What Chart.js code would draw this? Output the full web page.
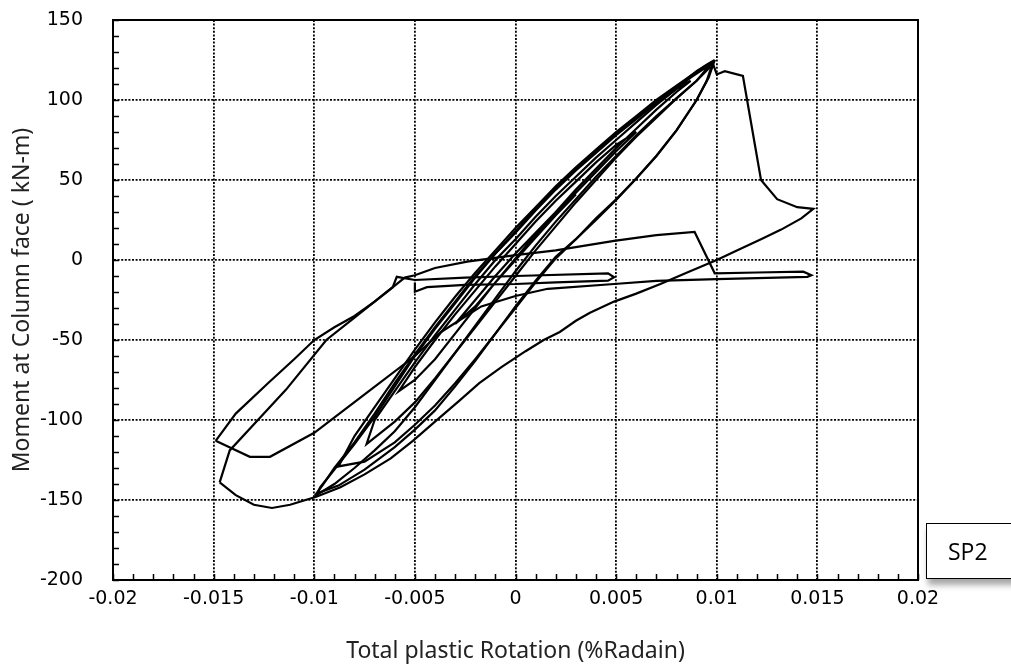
<!DOCTYPE html>
<html>
<head>
<meta charset="utf-8">
<script src="https://cdn.jsdelivr.net/npm/chart.js@4.4.0/dist/chart.umd.min.js"></script>
<style>
  html, body { margin: 0; padding: 0; background: #fff; }
  #wrap { position: relative; width: 1011px; height: 671px; overflow: hidden; }
  #sp2 {
    position: absolute; left: 926px; top: 523px; width: 100px; height: 54px;
    border: 1.5px solid #000; background: #fff;
    box-shadow: 2px 6px 6px rgba(0, 0, 0, 0.35);
    font: 23px "Open Sans", sans-serif; color: #000;
    line-height: 54px; padding-left: 21px; box-sizing: content-box;
  }
</style>
</head>
<body>
<div id="wrap">
  <canvas id="chart" width="1011" height="671"></canvas>
  <div id="sp2">SP2</div>
</div>
<script>
// axis ticks
const xTicks = [-0.02, -0.015, -0.01, -0.005, 0, 0.005, 0.01, 0.015, 0.02];
const xTickLabels = ["-0.02", "-0.015", "-0.01", "-0.005", "0", "0.005", "0.01", "0.015", "0.02"];
const yTicks = [-200, -150, -100, -50, 0, 50, 100, 150];
const yTickLabels = ["-200", "-150", "-100", "-50", "0", "50", "100", "150"];

// [rotation, moment]
// small and medium cycles
const smallCycles = [
  [0, 0], [0.001, 14], [0.002, 28], [0.003, 41], [0.002, 30], [0.001, 17], [0, 4], [-0.001, -10],
  [-0.002, -25], [-0.003, -40], [-0.002, -29], [-0.001, -14], [0, 0], [0.001, 14], [0.002, 28],
  [0.003, 42], [0.004, 55], [0.005, 68], [0.006, 80], [0.005, 72], [0.004, 61], [0.003, 49],
  [0.002, 37], [0.001, 24], [0, 10], [-0.001, -4], [-0.002, -19], [-0.003, -34], [-0.004, -50],
  [-0.005, -67], [-0.0058, -82], [-0.005, -75], [-0.004, -62], [-0.003, -46], [-0.002, -30],
  [-0.001, -14], [0, 1], [0.001, 16], [0.002, 30], [0.003, 44], [0.004, 57], [0.005, 70],
  [0.006, 82], [0.007, 94], [0.008, 105], [0.0087, 112], [0.008, 107], [0.007, 97], [0.006, 86],
  [0.005, 75], [0.004, 64], [0.003, 52], [0.002, 40], [0.001, 27], [0, 13], [-0.001, 0],
  [-0.002, -15], [-0.003, -31], [-0.004, -47], [-0.005, -64], [-0.006, -82], [-0.007, -100],
  [-0.0074, -115], [-0.007, -111], [-0.006, -101], [-0.005, -89], [-0.004, -74], [-0.003, -58],
  [-0.002, -42], [-0.001, -26], [0, -10], [0.001, 6], [0.002, 21], [0.003, 36], [0.004, 50],
  [0.005, 64], [0.006, 77], [0.007, 89], [0.008, 101], [0.009, 112], [0.0097, 121]
];
// cycles to +/-0.01
const cycle10a = [
  [0.0097, 121], [0.0098, 123], [0.0093, 119], [0.0087, 114], [0.008, 107], [0.007, 98], [0.006, 88],
  [0.005, 78], [0.004, 67], [0.003, 56], [0.002, 44], [0.001, 31], [0, 17], [-0.001, 4],
  [-0.002, -11], [-0.003, -27], [-0.004, -43], [-0.005, -60], [-0.006, -79], [-0.007, -98],
  [-0.008, -115], [-0.009, -131], [-0.0097, -142], [-0.0099, -147], [-0.009, -140], [-0.008, -130],
  [-0.007, -119], [-0.006, -107], [-0.005, -92], [-0.004, -75], [-0.003, -58], [-0.002, -41],
  [-0.001, -24], [0, -7], [0.001, 9], [0.002, 24], [0.003, 38], [0.004, 52], [0.005, 65],
  [0.006, 78], [0.007, 90], [0.008, 101], [0.009, 112], [0.0098, 124]
];
const cycle10b = [
  [0.0098, 124], [0.0094, 121], [0.0088, 116], [0.008, 109], [0.007, 100], [0.006, 90], [0.005, 80],
  [0.004, 69], [0.003, 58], [0.002, 46], [0.001, 33], [0, 20], [-0.001, 6], [-0.002, -8],
  [-0.003, -23], [-0.004, -39], [-0.005, -56], [-0.006, -74], [-0.007, -92], [-0.008, -110],
  [-0.0088, -129], [-0.0075, -126], [-0.006, -114], [-0.005, -103], [-0.004, -91], [-0.003, -77],
  [-0.002, -62], [-0.001, -46], [0, -30], [0.001, -14], [0.002, 1], [0.003, 13], [0.004, 26],
  [0.005, 38], [0.006, 51], [0.007, 65], [0.008, 81], [0.009, 100], [0.0096, 114], [0.0099, 125]
];
const cycle10c = [
  [0.0099, 125], [0.0095, 122], [0.009, 118], [0.008, 108], [0.007, 99], [0.006, 89], [0.005, 79],
  [0.004, 68], [0.003, 57], [0.002, 45], [0.001, 32], [0, 18], [-0.001, 4], [-0.002, -10],
  [-0.003, -26], [-0.004, -42], [-0.005, -59], [-0.006, -77], [-0.007, -96], [-0.008, -114],
  [-0.009, -130], [-0.0096, -141], [-0.0099, -146], [-0.0088, -141], [-0.0075, -131],
  [-0.006, -117], [-0.005, -106], [-0.004, -94], [-0.003, -79], [-0.002, -63], [-0.001, -46],
  [0, -29], [0.001, -13], [0.002, 2], [0.003, 13], [0.004, 25], [0.005, 37.5], [0.006, 51],
  [0.007, 65], [0.008, 81], [0.009, 100], [0.0095, 112], [0.0098, 123]
];
// cycle to 0.015: peak, strength drop, unloading to -0.015
const cycle15 = [
  [0.0098, 123], [0.01, 116], [0.0104, 118], [0.0113, 115], [0.0122, 50], [0.013, 38], [0.014, 33],
  [0.0148, 32], [0.0142, 26], [0.0132, 19], [0.0122, 13], [0.011, 6], [0.01, 0], [0.0085, -8],
  [0.0072, -15], [0.006, -21], [0.0049, -26], [0.0037, -33], [0.003, -38], [0.0022, -45],
  [0.0014, -50], [0.0005, -57], [-0.0007, -67], [-0.0018, -77], [-0.0028, -88], [-0.004, -101],
  [-0.0051, -113], [-0.0062, -124], [-0.0075, -134], [-0.0087, -142], [-0.0099, -148],
  [-0.0112, -153], [-0.0121, -155], [-0.013, -153], [-0.0139, -147], [-0.0147, -139]
];
const reloadB = [
  [-0.0147, -139], [-0.0142, -119], [-0.0128, -100], [-0.0114, -81], [-0.0094, -50], [-0.008, -36],
  [-0.0068, -24], [-0.006, -16], [-0.0055, -11], [-0.005, -9.5], [-0.004, -5], [-0.0024, -1],
  [0, 3], [0.002, 6], [0.0049, 12], [0.007, 15.5], [0.0089, 17.5], [0.0099, -8.3], [0.012, -7.8],
  [0.0143, -7.3], [0.0147, -9.5], [0.0145, -10.5], [0.013, -11], [0.01, -12], [0.007, -13],
  [0.0049, -15], [0.0016, -18], [0, -22.5], [-0.0017, -29], [-0.0037, -45], [-0.005, -60],
  [-0.0074, -83], [-0.01, -108], [-0.0122, -123], [-0.0132, -123], [-0.0149, -113]
];
const loopA = [
  [-0.0149, -113], [-0.0139, -96], [-0.0123, -77], [-0.011, -62], [-0.01, -50], [-0.009, -42],
  [-0.008, -35], [-0.007, -26], [-0.0061, -17], [-0.0059, -10.5], [-0.005, -12.5], [-0.0025, -11],
  [0, -10], [0.0046, -8.3], [0.0049, -10.8], [0.0046, -12.9], [0.002, -14], [0, -15],
  [-0.0025, -15.5], [-0.0044, -17], [-0.005, -19.8], [-0.005, -14]
];

const segments = [smallCycles, cycle10a, cycle10b, cycle10c, cycle15, reloadB, loopA];

const minorTicks = {
  id: "minorTicks",
  afterDraw(chart) {
    const { ctx, chartArea: a, scales: { x, y } } = chart;
    ctx.save();
    ctx.strokeStyle = "#000";
    ctx.lineWidth = 1.5;
    ctx.beginPath();
    for (let i = 0; i <= 40; i++) {
      const px = Math.round(x.getPixelForValue(-0.02 + i * 0.001)) + 0.5;
      ctx.moveTo(px, a.bottom);
      ctx.lineTo(px, a.bottom - 6);
    }
    for (let i = 0; i <= 35; i++) {
      const py = Math.round(y.getPixelForValue(-200 + i * 10)) + 0.5;
      ctx.moveTo(a.left, py);
      ctx.lineTo(a.left + 6, py);
    }
    ctx.stroke();
    ctx.lineWidth = 2;
    ctx.strokeRect(a.left, a.top, a.right - a.left, a.bottom - a.top);
    ctx.restore();
  }
};

new Chart(document.getElementById("chart"), {
  type: "scatter",
  data: {
    datasets: segments.map((s) => ({
      data: s.map((p) => ({ x: p[0], y: p[1] })),
      showLine: true,
      borderColor: "#000",
      borderWidth: 2.2,
      pointRadius: 0,
      tension: 0,
      fill: false
    }))
  },
  options: {
    responsive: false,
    animation: false,
    layout: { padding: { left: 0, right: 93, top: 20, bottom: 0 } },
    plugins: { legend: { display: false }, tooltip: { enabled: false } },
    scales: {
      x: {
        type: "linear",
        min: -0.02,
        max: 0.02,
        afterBuildTicks: (s) => { s.ticks = xTicks.map((v) => ({ value: v })); },
        afterFit: (s) => { s.height = 91; },
        ticks: {
          padding: 8,
          color: "#000",
          font: { family: "DejaVu Sans", size: 19 },
          callback: (v, i) => xTickLabels[i]
        },
        grid: { color: "#000", lineWidth: 1.8, drawTicks: false },
        border: { display: true, color: "#000", width: 2, dash: [2, 1.6] },
        title: {
          display: true,
          text: "Total plastic Rotation (%Radain)",
          color: "#222",
          font: { family: "Noto Sans", size: 23 },
          padding: { top: 4, bottom: 6 }
        }
      },
      y: {
        type: "linear",
        min: -200,
        max: 150,
        afterBuildTicks: (s) => { s.ticks = yTicks.map((v) => ({ value: v })); },
        afterFit: (s) => { s.width = 113; s.paddingTop = 0; s.paddingBottom = 0; },
        ticks: {
          padding: 30,
          color: "#000",
          font: { family: "DejaVu Sans", size: 19 },
          callback: (v, i) => yTickLabels[i]
        },
        grid: { color: "#000", lineWidth: 1.8, drawTicks: false },
        border: { display: true, color: "#000", width: 2, dash: [2, 1.6] },
        title: {
          display: true,
          text: "Moment at Column face ( kN-m)",
          color: "#222",
          font: { family: "Noto Sans", size: 23 },
          padding: { top: 9, bottom: 4 }
        }
      }
    }
  },
  plugins: [minorTicks]
});
</script>
</body>
</html>
